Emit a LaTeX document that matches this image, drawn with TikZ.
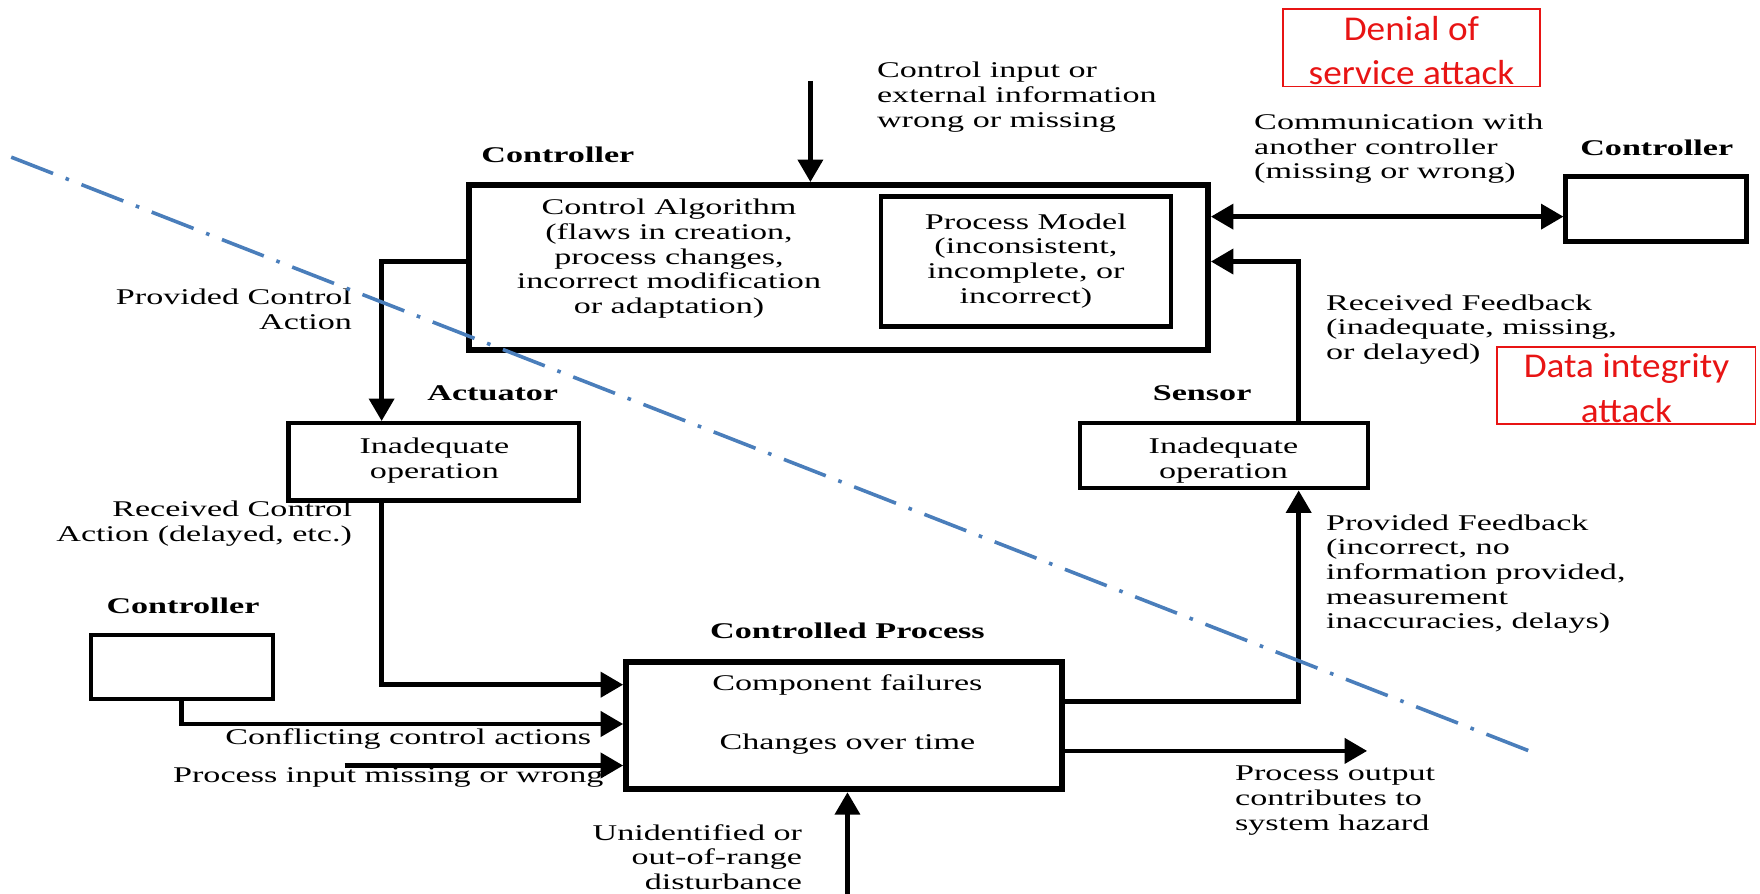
\documentclass[tikz,border=0pt]{standalone}
\usepackage{fontspec}
\setmainfont{Liberation Serif}[FakeStretch=1.52]
\newfontfamily\calloutfont{Carlito}[FakeStretch=1.07]
\usetikzlibrary{arrows.meta}

\definecolor{zoneblue}{RGB}{74,126,187}
\definecolor{attackred}{RGB}{232,20,20}

\begin{document}
\begin{tikzpicture}[x=0.5pt,y=-0.5pt,
  >={Triangle[length=10pt,width=11pt]},
  txt/.style={font=\fontsize{10}{11}\selectfont, inner sep=0pt},
  lbl/.style={font=\fontsize{10}{11}\selectfont\bfseries, inner sep=0pt},
  heavybox/.style={draw, line width=2.8pt, inner sep=0pt},
  lightbox/.style={draw, line width=1.9pt, inner sep=0pt},
  flow/.style={line width=2.1pt, ->},
  attack/.style={draw=attackred, line width=0.8pt, inner sep=0pt},
  attacktxt/.style={font=\calloutfont\fontsize{15.5}{20}\selectfont, text=attackred, align=center, inner sep=0pt},
  zone/.style={draw=zoneblue, line width=1.6pt, dash pattern=on 20pt off 6pt on 1.6pt off 6pt},
]
\useasboundingbox (0,0) rectangle (1568,796);

% ---------- boxes ----------
\node[heavybox, minimum width=329pt, minimum height=73.5pt] (main) at (747,238.5) {};
\node[lightbox, minimum width=129pt, minimum height=58pt] (pm) at (914,233) {};
\node[lightbox, minimum width=128.5pt, minimum height=29pt] (sensor) at (1090.5,406) {};
\node[lightbox, minimum width=129.5pt, minimum height=34.5pt] (act) at (386.5,411.5) {};
\node[heavybox, minimum width=194pt, minimum height=56.5pt] (cp) at (752,646.5) {};
\node[lightbox, minimum width=81pt, minimum height=28.5pt] (lc) at (162,594.5) {};
\node[lightbox, line width=2.1pt, minimum width=80.5pt, minimum height=29pt] (rc) at (1475.5,186) {};

% ---------- box labels and contents ----------
\node[lbl] (mainlbl) at (497,138) {Controller};
\node[lbl] (rclbl) at (1476,132) {Controller};
\node[lbl] (lclbl) at (163,540) {Controller};
\node[lbl] (actlbl) at (439,350) {Actuator};
\node[lbl] (senslbl) at (1071,350) {Sensor};
\node[lbl] (cplbl) at (755,562) {Controlled Process};

\node[txt, align=center, anchor=north] (algo) at (596,177)
  {Control Algorithm\\(flaws in creation,\\process changes,\\incorrect modification\\or adaptation)};
\node[txt, align=center, anchor=north] (pmtxt) at (914,190)
  {Process Model\\(inconsistent,\\incomplete, or\\incorrect)};
\node[txt, align=center, anchor=north] (acttxt) at (387,390) {Inadequate\\operation};
\node[txt, align=center, anchor=north] (senstxt) at (1090,390) {Inadequate\\operation};
\node[txt] (cpfail) at (755,610) {Component failures};
\node[txt] (cptime) at (755,663) {Changes over time};

% ---------- connector annotations ----------
\node[txt, align=left, anchor=north west] (citxt) at (781,55)
  {Control input or\\external information\\wrong or missing};
\node[txt, align=left, anchor=north west] (commtxt) at (1117,101)
  {Communication with\\another controller\\(missing or wrong)};
\node[txt, align=left, anchor=north west] (rfbtxt) at (1181,262)
  {Received Feedback\\(inadequate, missing,\\or delayed)};
\node[txt, align=left, anchor=north west] (pfbtxt) at (1181,458)
  {Provided Feedback\\(incorrect, no\\information provided,\\measurement\\inaccuracies, delays)};
\node[txt, align=left, anchor=north west] (outtxt) at (1100,682)
  {Process output\\contributes to\\system hazard};
\node[txt, align=right, anchor=north east] (pcatxt) at (314,257)
  {Provided Control\\Action};
\node[txt, align=right, anchor=north east] (rcatxt) at (314,446)
  {Received Control\\Action (delayed, etc.)};
\node[txt, anchor=east] (ccatxt) at (527,658) {Conflicting control actions};
\node[txt, anchor=east] (pitxt) at (538,693) {Process input missing or wrong};
\node[txt, align=right, anchor=north east] (disttxt) at (715,734)
  {Unidentified or\\out-of-range\\disturbance};

% ---------- connectors ----------
\coordinate (ciTop) at (722,72);
\draw[flow] (ciTop) -- (ciTop |- main.north);

\coordinate (commY) at (0,193);
\draw[line width=2.1pt, <->] (main.east |- commY) -- (rc.west |- commY);

\coordinate (fbTurn) at (1157,233);
\draw[flow] (sensor.north -| fbTurn) -- (fbTurn) -- (main.east |- fbTurn);

\coordinate (pfTurn) at (1157,625);
\draw[flow] (cp.east |- pfTurn) -- (pfTurn) -- (sensor.south -| pfTurn);

\coordinate (outEnd) at (1218,669);
\draw[flow] (cp.east |- outEnd) -- (outEnd);

\coordinate (distStart) at (755,800);
\draw[flow] (distStart) -- (cp.south -| distStart);

\coordinate (pcaTurn) at (340,233);
\draw[flow] (main.west |- pcaTurn) -- (pcaTurn) -- (act.north -| pcaTurn);

\coordinate (rcaTurn) at (340,610);
\draw[flow] (act.south -| rcaTurn) -- (rcaTurn) -- (cp.west |- rcaTurn);

\coordinate (ccaTurn) at (162,645);
\draw[flow] (lc.south -| ccaTurn) -- (ccaTurn) -- (cp.west |- ccaTurn);

\coordinate (piStart) at (307,682);
\draw[flow] (piStart) -- (cp.west |- piStart);

% ---------- trust boundary ----------
\coordinate (zoneA) at (10,140);
\coordinate (zoneB) at (1370,672);
\draw[zone] (zoneA) -- (zoneB);

% ---------- attack callouts ----------
\node[attack, minimum width=114.5pt, minimum height=34.5pt] (dos) at (1257.5,42.5) {};
\node[attacktxt] (dostxt) at (1257.5,45) {Denial of\\service attack};

\node[attack, minimum width=115pt, minimum height=34.5pt] (dia) at (1449,343.5) {};
\node[attacktxt] (diatxt) at (1449,346) {Data integrity\\attack};
\end{tikzpicture}
\end{document}
